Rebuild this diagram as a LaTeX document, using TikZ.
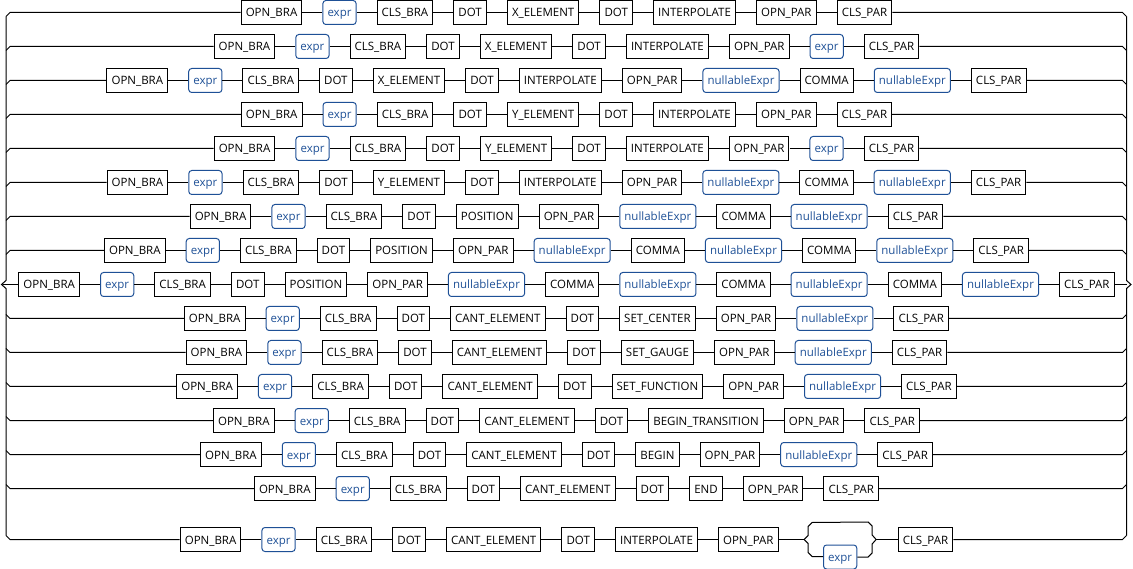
\documentclass[tikz,border=0pt]{standalone}
\usepackage{fontspec}
\setmainfont{Open Sans}
\usetikzlibrary{matrix, positioning, calc}
\definecolor{ntblue}{RGB}{30,80,150}
\tikzset{
	tok/.style={draw, line width=1pt, inner xsep=4.6pt, inner ysep=7.5pt, text height=9pt, text depth=0pt, font=\fontsize{11.5}{12}\selectfont},
	nt/.style={tok, draw=ntblue, text=ntblue, rounded corners=3pt},
	ghost/.style={draw=none, minimum width=71pt, minimum height=34pt},
	rail/.style={matrix of nodes, column sep=20pt, nodes={tok}},
}
\newcommand{\linkrow}[3]{%
	\foreach \i in {2,...,#2}{\pgfmathtruncatemacro\prv{\i-1}\draw (#1-1-\prv) -- (#1-1-\i);}
	\draw (#1-1-1) -- (lin |- #1-1-1) -- ++(-4,#3*4);
	\draw (#1-1-#2) -- (rin |- #1-1-1) -- ++(4,#3*4);
}

\begin{document}
\begin{tikzpicture}[x=1pt, y=-1pt, line width=1pt]
	\useasboundingbox (0,0) rectangle (1133,569);
	\coordinate (lbar) at (6,0);
	\coordinate (lin) at (10,0);
	\coordinate (rin) at (1122.5,0);
	\coordinate (rbar) at (1126.5,0);
	\matrix (r1) [rail] at (566.5,12.5) {OPN\_BRA & |[nt]| expr & CLS\_BRA & DOT & X\_ELEMENT & DOT & INTERPOLATE & OPN\_PAR & CLS\_PAR\\};
	\matrix (r2) [rail] at (566.5,46.5) {OPN\_BRA & |[nt]| expr & CLS\_BRA & DOT & X\_ELEMENT & DOT & INTERPOLATE & OPN\_PAR & |[nt]| expr & CLS\_PAR\\};
	\matrix (r3) [rail] at (566.5,80.5) {OPN\_BRA & |[nt]| expr & CLS\_BRA & DOT & X\_ELEMENT & DOT & INTERPOLATE & OPN\_PAR & |[nt]| nullableExpr & COMMA & |[nt]| nullableExpr & CLS\_PAR\\};
	\matrix (r4) [rail] at (566.5,114.5) {OPN\_BRA & |[nt]| expr & CLS\_BRA & DOT & Y\_ELEMENT & DOT & INTERPOLATE & OPN\_PAR & CLS\_PAR\\};
	\matrix (r5) [rail] at (566.5,148.5) {OPN\_BRA & |[nt]| expr & CLS\_BRA & DOT & Y\_ELEMENT & DOT & INTERPOLATE & OPN\_PAR & |[nt]| expr & CLS\_PAR\\};
	\matrix (r6) [rail] at (566.5,182.5) {OPN\_BRA & |[nt]| expr & CLS\_BRA & DOT & Y\_ELEMENT & DOT & INTERPOLATE & OPN\_PAR & |[nt]| nullableExpr & COMMA & |[nt]| nullableExpr & CLS\_PAR\\};
	\matrix (r7) [rail] at (566.5,216.5) {OPN\_BRA & |[nt]| expr & CLS\_BRA & DOT & POSITION & OPN\_PAR & |[nt]| nullableExpr & COMMA & |[nt]| nullableExpr & CLS\_PAR\\};
	\matrix (r8) [rail] at (566.5,250.5) {OPN\_BRA & |[nt]| expr & CLS\_BRA & DOT & POSITION & OPN\_PAR & |[nt]| nullableExpr & COMMA & |[nt]| nullableExpr & COMMA & |[nt]| nullableExpr & CLS\_PAR\\};
	\matrix (r9) [rail] at (566.5,284.5) {OPN\_BRA & |[nt]| expr & CLS\_BRA & DOT & POSITION & OPN\_PAR & |[nt]| nullableExpr & COMMA & |[nt]| nullableExpr & COMMA & |[nt]| nullableExpr & COMMA & |[nt]| nullableExpr & CLS\_PAR\\};
	\matrix (r10) [rail] at (566.5,318.5) {OPN\_BRA & |[nt]| expr & CLS\_BRA & DOT & CANT\_ELEMENT & DOT & SET\_CENTER & OPN\_PAR & |[nt]| nullableExpr & CLS\_PAR\\};
	\matrix (r11) [rail] at (566.5,352.5) {OPN\_BRA & |[nt]| expr & CLS\_BRA & DOT & CANT\_ELEMENT & DOT & SET\_GAUGE & OPN\_PAR & |[nt]| nullableExpr & CLS\_PAR\\};
	\matrix (r12) [rail] at (566.5,386.5) {OPN\_BRA & |[nt]| expr & CLS\_BRA & DOT & CANT\_ELEMENT & DOT & SET\_FUNCTION & OPN\_PAR & |[nt]| nullableExpr & CLS\_PAR\\};
	\matrix (r13) [rail] at (566.5,420.5) {OPN\_BRA & |[nt]| expr & CLS\_BRA & DOT & CANT\_ELEMENT & DOT & BEGIN\_TRANSITION & OPN\_PAR & CLS\_PAR\\};
	\matrix (r14) [rail] at (566.5,454.5) {OPN\_BRA & |[nt]| expr & CLS\_BRA & DOT & CANT\_ELEMENT & DOT & BEGIN & OPN\_PAR & |[nt]| nullableExpr & CLS\_PAR\\};
	\matrix (r15) [rail] at (566.5,488.5) {OPN\_BRA & |[nt]| expr & CLS\_BRA & DOT & CANT\_ELEMENT & DOT & END & OPN\_PAR & CLS\_PAR\\};
	\matrix (r16) [rail] at (566.5,539.5) {OPN\_BRA & |[nt]| expr & CLS\_BRA & DOT & CANT\_ELEMENT & DOT & INTERPOLATE & OPN\_PAR &[6pt] |[ghost]| ~ &[2pt] CLS\_PAR\\};
	\linkrow{r1}{9}{1}
	\linkrow{r2}{10}{1}
	\linkrow{r3}{12}{1}
	\linkrow{r4}{9}{1}
	\linkrow{r5}{10}{1}
	\linkrow{r6}{12}{1}
	\linkrow{r7}{10}{1}
	\linkrow{r8}{12}{1}
	\linkrow{r10}{10}{-1}
	\linkrow{r11}{10}{-1}
	\linkrow{r12}{10}{-1}
	\linkrow{r13}{9}{-1}
	\linkrow{r14}{10}{-1}
	\linkrow{r15}{9}{-1}
	\linkrow{r16}{10}{-1}
	\foreach \i in {2,...,14}{\pgfmathtruncatemacro\prv{\i-1}\draw (r9-1-\prv) -- (r9-1-\i);}
	\draw ($(lbar |- r1-1-1)+(0,4)$) -- ($(lbar |- r9-1-1)+(0,-4)$) -- ($(lbar |- r9-1-1)+(-4.5,0)$) -- ($(lbar |- r9-1-1)+(0,4)$) -- ($(lbar |- r16-1-1)+(0,-4)$);
	\draw (r9-1-1) -- ($(lbar |- r9-1-1)+(-3,0)$);
	\draw ($(rbar |- r1-1-1)+(0,4)$) -- ($(rbar |- r9-1-1)+(0,-4)$) -- ($(rbar |- r9-1-1)+(4.5,0)$) -- ($(rbar |- r9-1-1)+(0,4)$) -- ($(rbar |- r16-1-1)+(0,-4)$);
	\draw (r9-1-14) -- (rbar |- r9-1-14);
	\node[nt] (opt) at (r16-1-9.south) {expr};
	\draw (r16-1-9.west) -- ++(4,-4) -- ++(0,-9) -- ++(4,-4) -- ($(r16-1-9.north east)+(-8,0)$) -- ++(4,4) -- ++(0,9) -- (r16-1-9.east);
	\draw (r16-1-9.west) -- ++(4,4) -- ++(0,9) -- ++(4,4) -- (opt);
	\draw (opt) -- ($(r16-1-9.south east)+(-8,0)$) -- ++(4,-4) -- ++(0,-9) -- (r16-1-9.east);
\end{tikzpicture}
\end{document}
